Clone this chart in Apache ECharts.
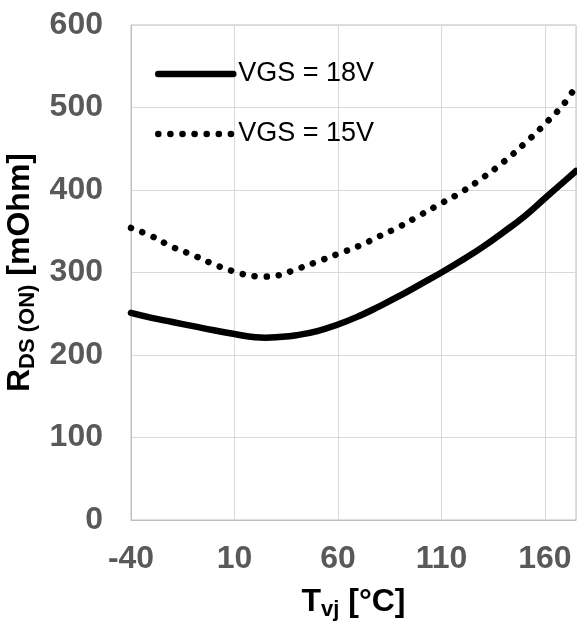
<!DOCTYPE html>
<html>
<head>
<meta charset="utf-8">
<script src="https://cdn.jsdelivr.net/npm/echarts@6/dist/echarts.min.js"></script>
<style>html,body{margin:0;padding:0;background:#fff}#c{width:577px;height:630px}</style>
</head>
<body>
<div id="c"></div>
<script>
var temps = [-40,-30,-20,-10,0,10,20,25,30,40,50,60,70,80,90,100,110,120,130,140,150,160,170,175];
var vgs18 = [251,245,240,235,230,225.5,221.5,221,221.5,224,229,237,247,259,272,286,300,315,331,349,368,390,412,423];
var vgs15 = [354,344,331,321,310,301,295.5,295,296,304,313,322.5,332,344,356,370,384,398,415,434,456,480,507,527];
var seriesNames = ['VGS = 18V','VGS = 15V'];
var xTicks = [-40,10,60,110,160];
var yTicks = [0,100,200,300,400,500,600];

function pairs(xs, ys){ return xs.map(function(x,i){return [x, ys[i]];}); }

var FONT = '"Liberation Sans", Arial, sans-serif';
var DOTS = [0.1, 12];
var chart = echarts.init(document.getElementById('c'), null, {renderer:'canvas'});
chart.setOption({
  animation:false,
  backgroundColor:'#fff',
  grid:{left:131, right:1, top:25, bottom:110, show:true, borderColor:'#bfbfbf', borderWidth:1,
        containLabel:false, outerBoundsMode:'none'},
  legend:{
    orient:'vertical', left:155, top:59, padding:0, itemWidth:75, itemHeight:14, itemGap:30,
    itemStyle:{opacity:0},
    textStyle:{fontFamily:FONT, fontSize:27, color:'#000', lineHeight:30},
    data:[
      {name:seriesNames[0], lineStyle:{width:6.5, cap:'round', type:'solid', color:'#000'}},
      {name:seriesNames[1], lineStyle:{width:6.5, cap:'round', type:DOTS, color:'#000'}}
    ]
  },
  xAxis:{
    type:'value', min:xTicks[0], max:175, interval:50,
    axisLine:{onZero:false, lineStyle:{color:'#bfbfbf'}}, axisTick:{show:false},
    splitLine:{lineStyle:{color:'#d9d9d9'}},
    axisLabel:{fontFamily:FONT, fontSize:32, fontWeight:'bold', color:'#595959', margin:23, showMaxLabel:false,
      formatter:function(v){return xTicks.indexOf(v)>=0 ? String(v) : '';}},
    name:'{a|T}{b|vj}{a| [°C]}', nameLocation:'middle', nameGap:63,
    nameTextStyle:{rich:{a:{fontFamily:FONT,fontSize:32,fontWeight:'bold',color:'#000'},
                         b:{fontFamily:FONT,fontSize:22,fontWeight:'bold',color:'#000',padding:[16,0,0,0]}}}
  },
  yAxis:{
    type:'value', min:yTicks[0], max:yTicks[yTicks.length-1], interval:100,
    axisLine:{show:true, onZero:false, lineStyle:{color:'#bfbfbf'}}, axisTick:{show:false},
    splitLine:{lineStyle:{color:'#d9d9d9'}},
    axisLabel:{fontFamily:FONT, fontSize:32, fontWeight:'bold', color:'#595959', margin:28},
    name:'{a|R}{b|DS (ON)}{a| [mOhm]}', nameLocation:'middle', nameGap:92, nameRotate:90,
    nameTextStyle:{rich:{a:{fontFamily:FONT,fontSize:32,fontWeight:'bold',color:'#000'},
                         b:{fontFamily:FONT,fontSize:22,fontWeight:'bold',color:'#000',padding:[16,0,0,0]}}}
  },
  series:[
    {name:seriesNames[0], type:'line', smooth:true, showSymbol:false, symbol:'none',
     data:pairs(temps, vgs18), lineStyle:{color:'#000', width:6.5, cap:'round'}, itemStyle:{color:'#000'}},
    {name:seriesNames[1], type:'line', smooth:true, showSymbol:false, symbol:'none',
     data:pairs(temps, vgs15), lineStyle:{color:'#000', width:6.5, cap:'round', type:DOTS}, itemStyle:{color:'#000'}}
  ]
});
</script>
</body>
</html>
